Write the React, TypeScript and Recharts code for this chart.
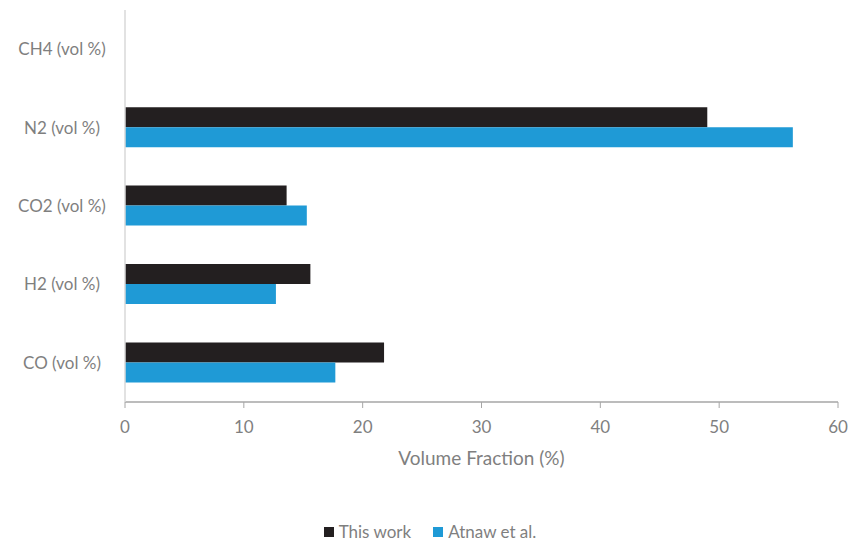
import React from 'react';
import { BarChart, Bar, XAxis, YAxis, Legend } from 'recharts';

const categories = ['CH4 (vol %)', 'N2 (vol %)', 'CO2 (vol %)', 'H2 (vol %)', 'CO (vol %)'];
const thisWork = [0, 49.0, 13.6, 15.6, 21.8];
const atnaw = [0, 56.2, 15.3, 12.7, 17.7];
const xTicks = [0, 10, 20, 30, 40, 50, 60];

const data = categories.map((name, i) => ({ name, thisWork: thisWork[i], atnaw: atnaw[i] }));

const FONT = 'Lato, "Open Sans", sans-serif';
const GREY = '#7f7f7f';

const CategoryTick = (props: any) => {
  const { y, payload } = props;
  return (
    <text x={62} y={y} dy={6} textAnchor="middle" fill={GREY} fontSize={17} fontFamily={FONT}>
      {payload.value}
    </text>
  );
};

const LegendBox = () => (
  <div style={{ display: 'flex', justifyContent: 'center', gap: 22, fontFamily: FONT, fontSize: 17, color: GREY, paddingLeft: 22, paddingTop: 19 }}>
    {[
      { label: 'This work', color: '#231f20' },
      { label: 'Atnaw et al.', color: '#1f9ad6' },
    ].map((item) => (
      <div key={item.label} style={{ display: 'flex', alignItems: 'center' }}>
        <span style={{ display: 'inline-block', width: 10, height: 10, background: item.color, marginRight: 5 }} />
        {item.label}
      </div>
    ))}
  </div>
);

export default function App() {
  return (
    <div style={{ position: 'absolute', left: 0, top: 0, width: 851, height: 544, background: '#fff' }}>
      <BarChart
        width={851}
        height={544}
        data={data}
        layout="vertical"
        margin={{ top: 10, right: 13, left: 0, bottom: 0 }}
        barCategoryGap="24%"
        barGap={0}
      >
        <XAxis
          type="number"
          domain={[0, 60]}
          ticks={xTicks}
          axisLine={{ stroke: '#a6a6a6', strokeWidth: 1.5 }}
          tickLine={{ stroke: '#a6a6a6' }}
          tickSize={6}
          tickMargin={13}
          tick={{ fill: GREY, fontSize: 17, fontFamily: FONT }}
          height={100}
          label={{ value: 'Volume Fraction (%)', position: 'insideTop', offset: 50, fill: GREY, fontSize: 19, fontFamily: FONT }}
        />
        <YAxis
          type="category"
          dataKey="name"
          width={125}
          axisLine={{ stroke: '#d9d9d9', strokeWidth: 1.5 }}
          tickLine={false}
          tick={<CategoryTick />}
        />
        <Legend verticalAlign="bottom" height={42} content={<LegendBox />} />
        <Bar dataKey="thisWork" name="This work" fill="#231f20" isAnimationActive={false} />
        <Bar dataKey="atnaw" name="Atnaw et al." fill="#1f9ad6" isAnimationActive={false} />
      </BarChart>
    </div>
  );
}
